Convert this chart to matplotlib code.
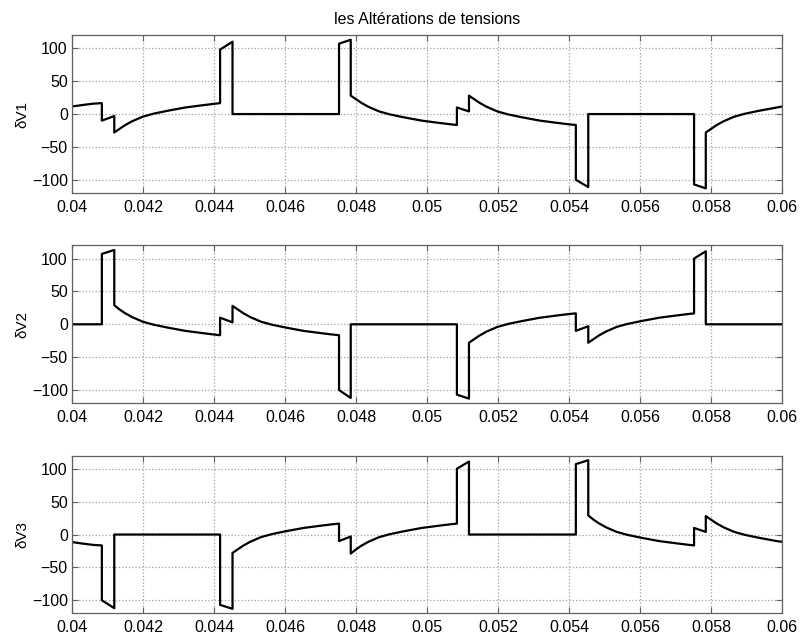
import matplotlib
matplotlib.use("Agg")
import matplotlib.pyplot as plt

# Voltage alteration waveforms (dV1, dV2, dV3)
plt.rcParams['font.family'] = ['Liberation Sans', 'DejaVu Sans']
plt.rcParams['font.size'] = 11.5

TITLE = "les Altérations de tensions"
LABELS = ["δV1", "δV2", "δV3"]
XTICKS = [0.04, 0.042, 0.044, 0.046, 0.048, 0.05, 0.052, 0.054, 0.056, 0.058, 0.06]
XTICK_LABELS = ["0.04", "0.042", "0.044", "0.046", "0.048", "0.05",
                "0.052", "0.054", "0.056", "0.058", "0.06"]
YTICKS = [-100, -50, 0, 50, 100]

# phase 1
t1 = [0.04, 0.0403, 0.0406, 0.04084,
      0.04084, 0.04119,
      0.04119, 0.04134, 0.04149, 0.04169, 0.04199, 0.04229, 0.04269, 0.04319, 0.04369, 0.04399, 0.04417,
      0.04417, 0.04452, 0.04452, 0.04752, 0.04752, 0.04785,
      0.04785, 0.048, 0.04815, 0.04835, 0.04865, 0.04895, 0.04935, 0.04985, 0.05035, 0.05065, 0.05084,
      0.05084, 0.05118,
      0.05118, 0.05133, 0.05148, 0.05168, 0.05198, 0.05228, 0.05268, 0.05318, 0.05368, 0.05398, 0.05419,
      0.05419, 0.05454, 0.05454, 0.05752, 0.05752, 0.05785,
      0.05785, 0.058, 0.05815, 0.05835, 0.05865, 0.05895, 0.05935, 0.05985, 0.06]
v1 = [11.5, 13.8, 15.8, 16.6,
      -10, -3,
      -28, -22.5, -17, -11, -4, 0.5, 5, 10, 13.5, 15.5, 16.6,
      98, 110, 0, 0, 107, 113,
      28, 22.5, 17, 11, 4, -0.5, -5, -10, -13.5, -15.5, -16.6,
      10, 4,
      28, 22.5, 17, 11, 4, -0.5, -5, -10, -13.5, -15.5, -16.6,
      -100, -111, 0, 0, -107, -113,
      -28, -22.5, -17, -11, -4, 0.5, 5, 10, 11.5]

# phase 2
t2 = [0.04, 0.04084, 0.04084, 0.04119,
      0.04119, 0.04134, 0.04149, 0.04169, 0.04199, 0.04229, 0.04269, 0.04319, 0.04369, 0.04399, 0.04417,
      0.04417, 0.04452,
      0.04452, 0.04467, 0.04482, 0.04502, 0.04532, 0.04562, 0.04602, 0.04652, 0.04702, 0.04732, 0.04752,
      0.04752, 0.04785, 0.04785, 0.05084, 0.05084, 0.05118,
      0.05118, 0.05133, 0.05148, 0.05168, 0.05198, 0.05228, 0.05268, 0.05318, 0.05368, 0.05398, 0.05419,
      0.05419, 0.05454,
      0.05454, 0.05469, 0.05484, 0.05504, 0.05534, 0.05564, 0.05604, 0.05654, 0.05704, 0.05734, 0.05752,
      0.05752, 0.05785, 0.05785, 0.06]
v2 = [0, 0, 107, 113,
      29, 22.5, 17, 11, 4, -0.5, -5, -10, -13.5, -15.5, -16.6,
      10, 3,
      28, 22.5, 17, 11, 4, -0.5, -5, -10, -13.5, -15.5, -16.6,
      -100, -112, 0, 0, -107, -113,
      -28, -22.5, -17, -11, -4, 0.5, 5, 10, 13.5, 15.5, 16.6,
      -10, -3,
      -28, -22.5, -17, -11, -4, 0.5, 5, 10, 13.5, 15.5, 16.6,
      100, 111, 0, 0]

# phase 3
t3 = [0.04, 0.0403, 0.0406, 0.04084,
      0.04084, 0.04119, 0.04119, 0.04417, 0.04417, 0.04452,
      0.04452, 0.04467, 0.04482, 0.04502, 0.04532, 0.04562, 0.04602, 0.04652, 0.04702, 0.04732, 0.04752,
      0.04752, 0.04785,
      0.04785, 0.048, 0.04815, 0.04835, 0.04865, 0.04895, 0.04935, 0.04985, 0.05035, 0.05065, 0.05084,
      0.05084, 0.05118, 0.05118, 0.05419, 0.05419, 0.05454,
      0.05454, 0.05469, 0.05484, 0.05504, 0.05534, 0.05564, 0.05604, 0.05654, 0.05704, 0.05734, 0.05752,
      0.05752, 0.05785,
      0.05785, 0.058, 0.05815, 0.05835, 0.05865, 0.05895, 0.05935, 0.05985, 0.06]
v3 = [-11.5, -13.8, -15.8, -16.6,
      -100, -112, 0, 0, -107, -113,
      -28, -22.5, -17, -11, -4, 0.5, 5, 10, 13.5, 15.5, 16.6,
      -10, -3,
      -29, -22.5, -17, -11, -4, 0.5, 5, 10, 13.5, 15.5, 16.6,
      100, 111, 0, 0, 107, 113,
      29, 22.5, 17, 11, 4, -0.5, -5, -10, -13.5, -15.5, -16.6,
      10, 4,
      28, 22.5, 17, 11, 4, -0.5, -5, -10, -11]

series = [(t1, v1), (t2, v2), (t3, v3)]

fig = plt.figure(figsize=(8.03, 6.39), dpi=100)
left, width, height = 0.0897, 0.8843, 0.247
bottoms = [0.698, 0.369, 0.040]

for i, (t, v) in enumerate(series):
    ax = fig.add_axes([left, bottoms[i], width, height])
    ax.plot(t, v, color='black', linewidth=1.6)
    ax.set_xlim(0.04, 0.06)
    ax.set_ylim(-120, 120)
    ax.set_xticks(XTICKS)
    ax.set_xticklabels(XTICK_LABELS)
    ax.set_yticks(YTICKS)
    ax.set_ylabel(LABELS[i], fontsize=11, labelpad=2)
    ax.grid(True, linestyle=':', color='#a0a0a0', linewidth=0.9)
    ax.tick_params(direction='in', length=4, top=True, right=True,
                   color='#606060', labelcolor='black')
    ax.tick_params(axis='x', pad=5)
    ax.tick_params(axis='y', pad=3)
    for sp in ax.spines.values():
        sp.set_color('#606060')
        sp.set_linewidth(0.9)
    if i == 0:
        ax.set_title(TITLE, fontsize=11.5, pad=8)

fig.savefig("out.png", dpi=100)
